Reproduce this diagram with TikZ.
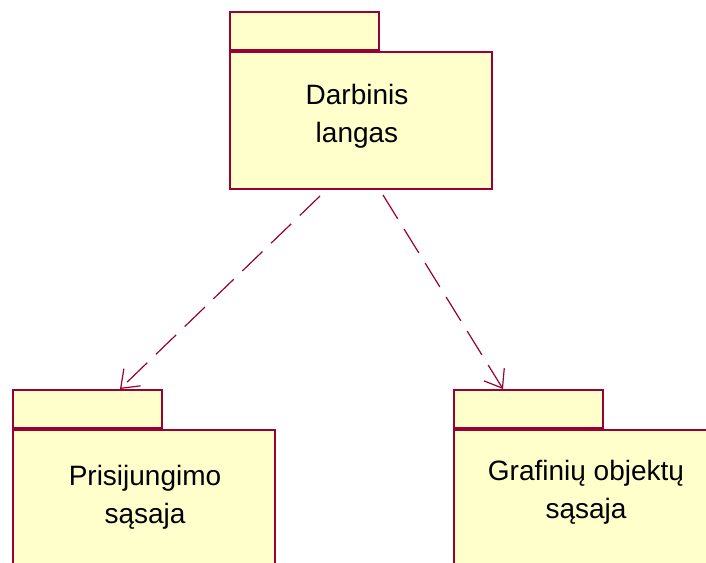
\documentclass[tikz,border=0pt]{standalone}
\usepackage{fontspec}
\setmainfont{Liberation Sans}
\usetikzlibrary{arrows.meta,calc}
\definecolor{pkgfill}{RGB}{255,255,204}
\definecolor{pkgline}{RGB}{153,0,51}
\tikzset{
  pkgbody/.style={draw=pkgline, fill=pkgfill, line width=2pt, inner sep=0pt, anchor=north west},
  pkgtab/.style={draw=pkgline, fill=pkgfill, line width=2pt, inner sep=0pt, anchor=south west, minimum width=149pt, minimum height=38pt},
  lbl/.style={font=\fontsize{28}{38}\selectfont, align=center, inner sep=0pt},
  depend/.style={draw=pkgline, line width=1.2pt, dash pattern=on 28pt off 12pt, -{Straight Barb[length=16pt,width=24pt,line width=1.2pt]}}
}
\begin{document}
\begin{tikzpicture}[x=1pt,y=-1pt]
\useasboundingbox (0,0) rectangle (706,562);
\clip (0,0) rectangle (706,562);
\fill[white] (0,0) rectangle (706,562);
% top package
\node[pkgbody, minimum width=262pt, minimum height=137pt] (b1) at (229,51) {};
\node[pkgtab] (t1) at (b1.north west) {};
\node[lbl] (l1) at (357,116) {Darbinis\\langas};
% left package
\node[pkgbody, minimum width=262pt, minimum height=200pt] (b2) at (12,429) {};
\node[pkgtab] (t2) at (b2.north west) {};
\node[lbl] (l2) at (145,497) {Prisijungimo\\sąsaja};
% right package
\node[pkgbody, minimum width=262pt, minimum height=200pt] (b3) at (453,429) {};
\node[pkgtab] (t3) at (b3.north west) {};
\node[lbl] (l3) at (586,492) {Grafinių objektų\\sąsaja};
% connectors
\coordinate (s1) at ($(b1.south west)+(91,6)$);
\coordinate (s2) at ($(b1.south west)+(154,5)$);
\coordinate (e1) at ($(t2.north west)+(108,0)$);
\coordinate (e2) at ($(t3.north west)+(50,0)$);
\draw[depend] (s1) -- (e1);
\draw[depend] (s2) -- (e2);
\end{tikzpicture}
\end{document}
